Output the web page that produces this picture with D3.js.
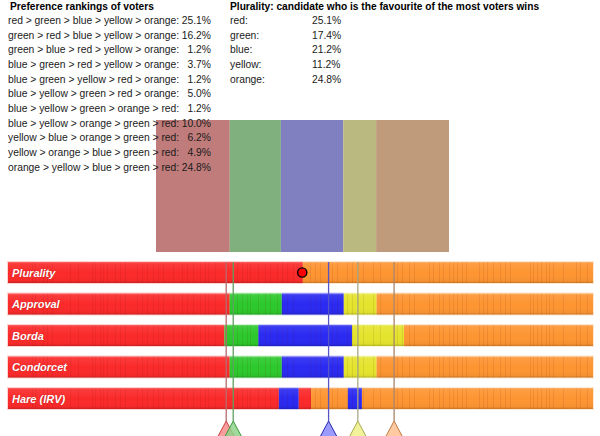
<!DOCTYPE html>
<html>
<head>
<meta charset="utf-8">
<script src="https://cdn.jsdelivr.net/npm/d3@7"></script>
<style>
  body { margin: 0; background: #fff; }
  svg { display: block; font-family: "Liberation Sans", Arial, Helvetica, sans-serif; }
  .ttl { font-weight: bold; font-size: 10.2px; fill: #000; }
  .row { font-size: 10.3px; fill: #1a1a1a; }
  .mlabel { font-weight: bold; font-style: italic; font-size: 11px; fill: #fff; }
</style>
</head>
<body>
<svg id="chart" width="600" height="436"></svg>
<script>
// voter preference rankings
var rankings = [
  "red > green > blue > yellow > orange:",
  "green > red > blue > yellow > orange:",
  "green > blue > red > yellow > orange:",
  "blue > green > red > yellow > orange:",
  "blue > green > yellow > red > orange:",
  "blue > yellow > green > red > orange:",
  "blue > yellow > green > orange > red:",
  "blue > yellow > orange > green > red:",
  "yellow > blue > orange > green > red:",
  "yellow > orange > blue > green > red:",
  "orange > yellow > blue > green > red:"
];
var rankingShares = [25.1, 16.2, 1.2, 3.7, 1.2, 5.0, 1.2, 10.0, 6.2, 4.9, 24.8];

// plurality first-choice shares
var candidates = ["red", "green", "blue", "yellow", "orange"];
var pluralityShares = [25.1, 17.4, 21.2, 11.2, 24.8];

// candidate positions on the strip (0-100)
var candidatePos = [37.3, 38.5, 54.8, 59.8, 66.0];

// winner strips per method: cut points and winner of each piece
var methods = ["Plurality", "Approval", "Borda", "Condorcet", "Hare (IRV)"];
var pluralityCuts = [0, 50.4, 100];
var pluralityWinners = ["red", "orange"];
var approvalCuts = [0, 37.9, 46.8, 57.4, 63.0, 100];
var approvalWinners = ["red", "green", "blue", "yellow", "orange"];
var bordaCuts = [0, 37.0, 42.8, 58.8, 67.7, 100];
var bordaWinners = ["red", "green", "blue", "yellow", "orange"];
var condorcetCuts = [0, 37.9, 46.8, 57.4, 63.0, 100];
var condorcetWinners = ["red", "green", "blue", "yellow", "orange"];
var hareCuts = [0, 46.3, 49.7, 51.8, 58.1, 60.5, 100];
var hareWinners = ["red", "blue", "red", "orange", "blue", "orange"];
var pluralityMarker = 50.3;

// sample column seams visible in every strip (0-100)
var seams = [4.1, 4.6, 6.0, 6.7, 7.5, 10.6, 12.0, 14.4, 14.9, 15.7, 16.2, 16.9, 18.3, 19.1, 20.0,
  22.1, 22.9, 23.8, 24.8, 25.6, 26.5, 28.2, 29.7, 30.6, 31.6, 32.8, 33.7, 34.2, 35.4, 39.1, 40.0,
  40.9, 41.4, 42.7, 43.9, 44.8, 46.0, 46.8, 47.7, 48.7, 51.6, 52.5, 53.3, 55.4, 56.2, 58.0, 58.8,
  59.8, 60.7, 62.4, 63.6, 66.5, 67.4, 68.5, 69.4, 72.0, 72.6, 73.7, 74.4, 75.4, 76.1, 76.8, 77.6,
  78.3, 80.5, 81.2, 81.9, 82.9, 84.1, 85.0, 85.8, 89.2, 89.7, 90.4, 91.1, 92.0, 92.5, 93.2, 94.9,
  97.1, 97.8, 99.0];

var methodCuts = [pluralityCuts, approvalCuts, bordaCuts, condorcetCuts, hareCuts];
var methodWinners = [pluralityWinners, approvalWinners, bordaWinners, condorcetWinners, hareWinners];

var barColor = { red: "#fb2a2a", green: "#2cc92c", blue: "#2a2af2", yellow: "#e4e42e", orange: "#fd9532" };
var blockColor = { red: "#bf7c7b", green: "#7fb07d", blue: "#807fbf", yellow: "#b9b980", orange: "#bf9b7c" };
var lineColor = { red: "#b76a6a", green: "#5f9f5f", blue: "#5555c8", yellow: "#a9a985", orange: "#a8866a" };
var triFill = { red: "#f98c8c", green: "#8fd28a", blue: "#8a8aff", yellow: "#f0f08a", orange: "#ffc090" };
var triStroke = { red: "#d04040", green: "#3a9a3a", blue: "#2828b0", yellow: "#a8a850", orange: "#c07a40" };

var svg = d3.select("#chart");

// gloss gradient for strips
var defs = svg.append("defs");
var grad = defs.append("linearGradient")
    .attr("id", "gloss")
    .attr("x1", 0).attr("y1", 0).attr("x2", 0).attr("y2", 1);
grad.append("stop").attr("offset", "0").attr("stop-color", "#fff").attr("stop-opacity", 0.3);
grad.append("stop").attr("offset", "0.08").attr("stop-color", "#fff").attr("stop-opacity", 0.08);
grad.append("stop").attr("offset", "0.5").attr("stop-color", "#fff").attr("stop-opacity", 0);
grad.append("stop").attr("offset", "0.9").attr("stop-color", "#000").attr("stop-opacity", 0.03);
grad.append("stop").attr("offset", "1").attr("stop-color", "#000").attr("stop-opacity", 0.2);

// plurality share blocks (drawn under the text)
var blockX = d3.scaleLinear()
    .domain([0, d3.sum(pluralityShares)])
    .range([156, 449]);
var cum = d3.cumsum(pluralityShares);
svg.append("g").selectAll("rect")
    .data(candidates)
    .enter().append("rect")
    .attr("x", function(d, i) { return blockX(i ? cum[i - 1] : 0); })
    .attr("width", function(d, i) { return blockX(cum[i]) - blockX(i ? cum[i - 1] : 0); })
    .attr("y", 120)
    .attr("height", 132)
    .attr("fill", function(d) { return blockColor[d]; });

// rankings table
var rowY = d3.scaleLinear().domain([0, 1]).range([24, 38.65]);
svg.append("text").attr("class", "ttl").attr("x", 10).attr("y", 10)
    .text("Preference rankings of voters");
var rk = svg.append("g");
rk.selectAll("text.lab")
    .data(rankings)
    .enter().append("text")
    .attr("class", "row lab")
    .attr("x", 8)
    .attr("y", function(d, i) { return rowY(i); })
    .text(function(d) { return d; });
rk.selectAll("text.pct")
    .data(rankingShares)
    .enter().append("text")
    .attr("class", "row pct")
    .attr("x", 211)
    .attr("y", function(d, i) { return rowY(i); })
    .attr("text-anchor", "end")
    .text(function(d) { return d.toFixed(1) + "%"; });

// plurality table
svg.append("text").attr("class", "ttl").attr("x", 230).attr("y", 10)
    .text("Plurality: candidate who is the favourite of the most voters wins");
var pl = svg.append("g");
pl.selectAll("text.lab")
    .data(candidates)
    .enter().append("text")
    .attr("class", "row lab")
    .attr("x", 230)
    .attr("y", function(d, i) { return rowY(i); })
    .text(function(d) { return d + ":"; });
pl.selectAll("text.pct")
    .data(pluralityShares)
    .enter().append("text")
    .attr("class", "row pct")
    .attr("x", 312)
    .attr("y", function(d, i) { return rowY(i); })
    .text(function(d) { return d.toFixed(1) + "%"; });

// winner strips
var xScale = d3.scaleLinear().domain([0, 100]).range([8, 593]);
var yScale = d3.scaleBand()
    .domain(methods)
    .range([262, 409])
    .paddingInner(1 / 3)
    .paddingOuter(0);

methods.forEach(function(m, mi) {
  var cuts = methodCuts[mi];
  var wins = methodWinners[mi];
  var g = svg.append("g").attr("class", "strip");
  var y0 = yScale(m), h = yScale.bandwidth();
  var segs = wins.map(function(w, i) { return { w: w, a: cuts[i], b: cuts[i + 1] }; });

  // faint halo
  g.selectAll("rect.halo")
    .data(segs)
    .enter().append("rect")
    .attr("class", "halo")
    .attr("x", function(d) { return xScale(d.a) - (d.a === 0 ? 1 : 0); })
    .attr("width", function(d) { return xScale(d.b) - xScale(d.a) + (d.a === 0 ? 1 : 0) + (d.b === 100 ? 1 : 0); })
    .attr("y", y0 - 1)
    .attr("height", h + 2)
    .attr("fill", function(d) { return barColor[d.w]; })
    .attr("opacity", 0.22);

  g.selectAll("rect.seg")
    .data(segs)
    .enter().append("rect")
    .attr("class", "seg")
    .attr("x", function(d) { return xScale(d.a); })
    .attr("width", function(d) { return xScale(d.b) - xScale(d.a); })
    .attr("y", y0)
    .attr("height", h)
    .attr("fill", function(d) { return barColor[d.w]; });

  g.selectAll("line.seam")
    .data(seams)
    .enter().append("line")
    .attr("class", "seam")
    .attr("x1", function(d) { return Math.round(xScale(d)) + 0.5; })
    .attr("x2", function(d) { return Math.round(xScale(d)) + 0.5; })
    .attr("y1", y0)
    .attr("y2", y0 + h)
    .attr("stroke", "#600")
    .attr("stroke-opacity", 0.09)
    .attr("stroke-width", 1);

  g.append("rect")
    .attr("x", xScale(0)).attr("width", xScale(100) - xScale(0))
    .attr("y", y0).attr("height", h)
    .attr("fill", "url(#gloss)");

  g.append("text")
    .attr("class", "mlabel")
    .attr("x", 12)
    .attr("y", y0 + h / 2 + 4)
    .style("text-shadow", "0 0 1px rgba(120,0,0,0.6)")
    .text(m);
});

// plurality marker
svg.append("circle")
    .attr("cx", xScale(pluralityMarker))
    .attr("cy", yScale("Plurality") + yScale.bandwidth() / 2)
    .attr("r", 4.6)
    .attr("fill", "#f00")
    .attr("stroke", "#000")
    .attr("stroke-width", 1.4);

// candidate lines + triangles
var apexY = 421;
var cg = svg.append("g");
cg.selectAll("line")
    .data(candidates)
    .enter().append("line")
    .attr("x1", function(d, i) { return xScale(candidatePos[i]); })
    .attr("x2", function(d, i) { return xScale(candidatePos[i]); })
    .attr("y1", 262)
    .attr("y2", apexY)
    .attr("stroke", function(d) { return lineColor[d]; })
    .attr("stroke-width", 1.3);
cg.selectAll("path")
    .data(candidates)
    .enter().append("path")
    .attr("d", function(d, i) {
      var x = xScale(candidatePos[i]);
      return "M" + x + "," + apexY + "L" + (x + 10.7) + "," + (apexY + 20) + "L" + (x - 10.7) + "," + (apexY + 20) + "Z";
    })
    .attr("fill", function(d) { return triFill[d]; })
    .attr("fill-opacity", 0.85)
    .attr("stroke", function(d) { return triStroke[d]; })
    .attr("stroke-width", 1);
</script>
</body>
</html>
